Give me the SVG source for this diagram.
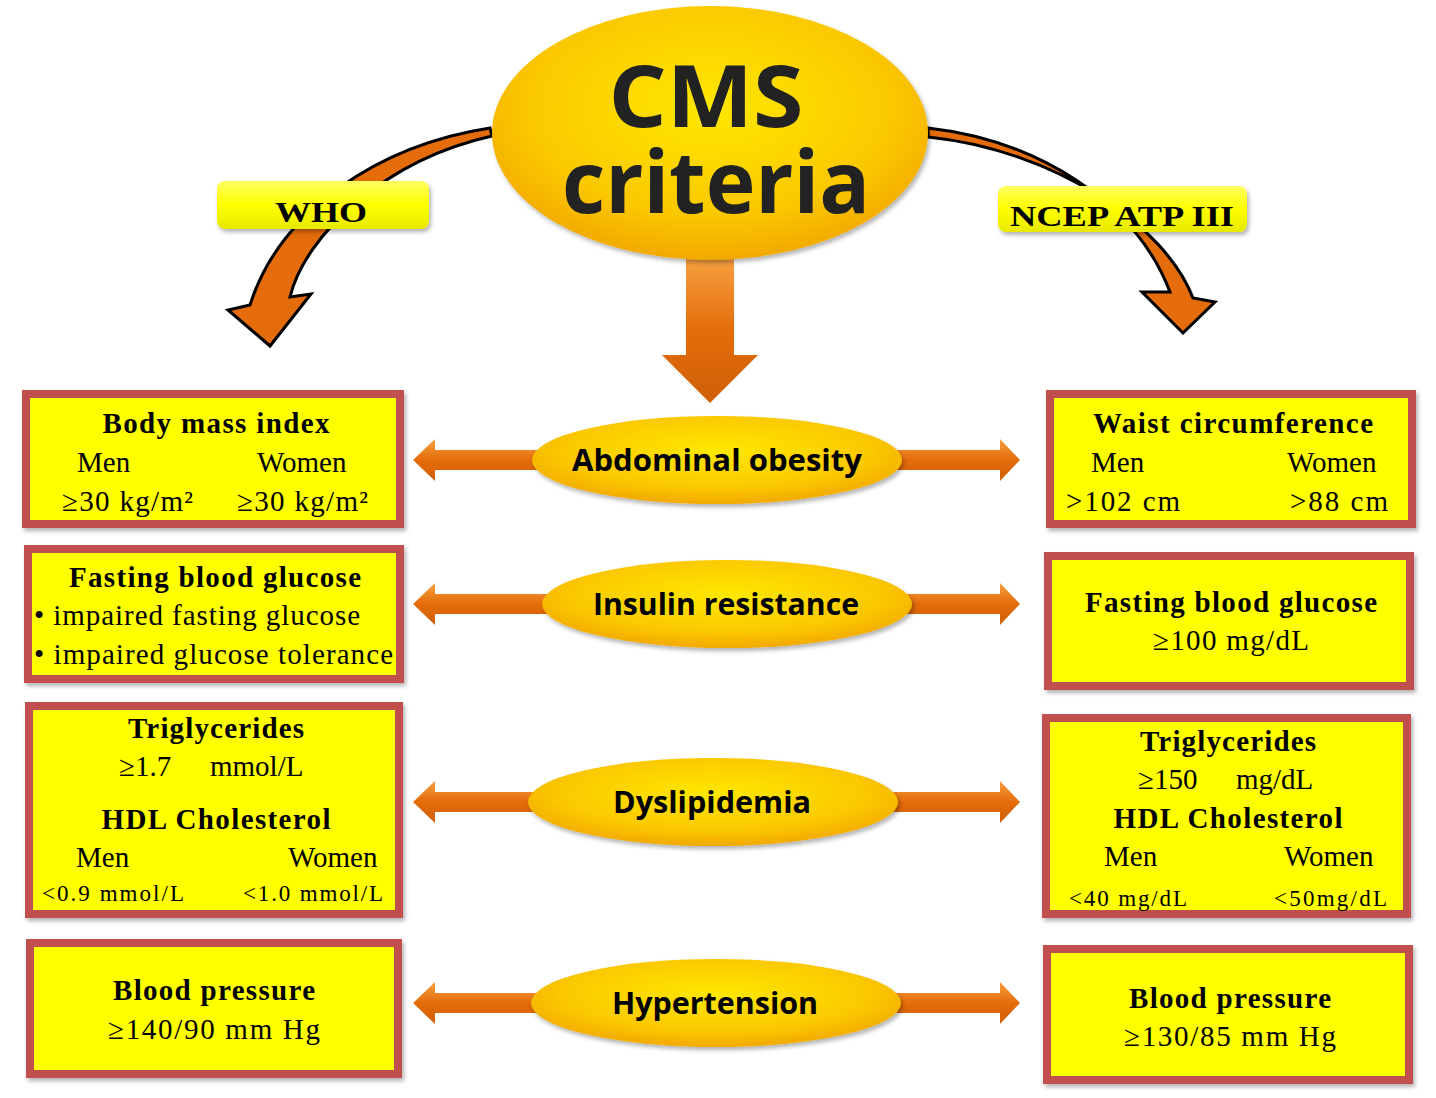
<svg xmlns="http://www.w3.org/2000/svg" width="1436" height="1098" viewBox="0 0 1436 1098">
<defs>
<radialGradient id="eg" cx="50%" cy="40%" r="60%"><stop offset="0" stop-color="#ffe800"/><stop offset="0.7" stop-color="#fbc800"/><stop offset="1" stop-color="#f2a900"/></radialGradient>
<linearGradient id="ag" x1="0" y1="0" x2="0" y2="1"><stop offset="0" stop-color="#f7a040"/><stop offset="0.5" stop-color="#e46c0a"/><stop offset="1" stop-color="#d05f08"/></linearGradient>
<linearGradient id="lg" x1="0" y1="0" x2="0" y2="1"><stop offset="0" stop-color="#ffff60"/><stop offset="0.5" stop-color="#ffff00"/><stop offset="1" stop-color="#e8e800"/></linearGradient>
<filter id="sh" x="-10%" y="-10%" width="130%" height="130%"><feDropShadow dx="2" dy="3" stdDeviation="2" flood-opacity="0.3"/></filter>
</defs>
<style>
.bo{fill:#c0504d;filter:url(#sh)}
.bi{fill:#ffff00}
.t{font-family:"Liberation Serif",serif;font-size:29px;fill:#000}
.b{font-weight:bold}
.s{font-size:23px}
.e{fill:url(#eg);filter:url(#sh)}
.et{font-family:"Open Sans","Liberation Sans",sans-serif;font-weight:bold;font-size:31px;fill:#000;text-anchor:middle}
.m{text-anchor:middle}
.ar{fill:url(#ag)}
.ca{fill:#e46c0a;stroke:#000;stroke-width:3;stroke-linejoin:miter}
</style>
<g id="connectors">
<path class="ca" d="M490,128 C380,145 280,210 250,305 L228,310 L270,346 L311,294 L290,297 C305,235 385,160 492,136 Z"/>
<path class="ca" d="M928,128 C1035,140 1135,200 1170,292 L1142,292 L1183,333 L1215,302 L1193,298 C1165,225 1055,150 928,137 Z"/>
<path class="ar" d="M686,258 H734 V355 H758 L710,403 L662,355 H686 Z"/>
<g class="ar">
<path d="M413,460 L435,439 V450 H1000 V439 L1020,460 L1000,481 V470 H435 V481 Z"/>
<path d="M413,604 L435,583 V594 H1000 V583 L1020,604 L1000,625 V614 H435 V625 Z"/>
<path d="M413,802 L435,781 V792 H1000 V781 L1020,802 L1000,823 V812 H435 V823 Z"/>
<path d="M413,1003 L435,982 V993 H1000 V982 L1020,1003 L1000,1024 V1013 H435 V1024 Z"/>
</g>
</g>
<g id="cms"><ellipse class="e" cx="710" cy="133" rx="218" ry="127"/>
<text x="706" y="127" font-family="Open Sans,Liberation Sans,sans-serif" font-weight="bold" font-size="86" text-anchor="middle" fill="#222" textLength="195" lengthAdjust="spacingAndGlyphs">CMS</text>
<text x="716" y="213" font-family="Open Sans,Liberation Sans,sans-serif" font-weight="bold" font-size="86" text-anchor="middle" fill="#222" textLength="308" lengthAdjust="spacingAndGlyphs">criteria</text></g>
<g id="who"><rect x="217" y="181" width="212" height="48" rx="8" fill="url(#lg)" filter="url(#sh)"/><text class="t b m" x="321" y="222" font-size="36" textLength="92" lengthAdjust="spacingAndGlyphs">WHO</text></g>
<g id="ncep"><rect x="998" y="186" width="249" height="46" rx="8" fill="url(#lg)" filter="url(#sh)"/><text class="t b m" x="1122" y="226" font-size="36" textLength="224" lengthAdjust="spacingAndGlyphs">NCEP ATP III</text></g>
<g id="e1"><ellipse class="e" cx="717" cy="460" rx="185" ry="44"/><text class="et" x="717" y="471" textLength="290" lengthAdjust="spacingAndGlyphs">Abdominal obesity</text></g>
<g id="e2"><ellipse class="e" cx="727" cy="604" rx="185" ry="44"/><text class="et" x="726" y="615" textLength="266" lengthAdjust="spacingAndGlyphs">Insulin resistance</text></g>
<g id="e3"><ellipse class="e" cx="713" cy="802" rx="185" ry="44"/><text class="et" x="712" y="813" textLength="198" lengthAdjust="spacingAndGlyphs">Dyslipidemia</text></g>
<g id="e4"><ellipse class="e" cx="716" cy="1003" rx="185" ry="44"/><text class="et" x="715" y="1014" textLength="206" lengthAdjust="spacingAndGlyphs">Hypertension</text></g>
<g id="l1"><rect class="bo" x="22" y="390" width="382" height="138"/><rect class="bi" x="30" y="398" width="366" height="122"/>
<text class="t b m" x="216" y="433" textLength="227">Body mass index</text><text class="t" x="77" y="472">Men</text><text class="t" x="257" y="472">Women</text>
<text class="t" x="62" y="511" textLength="131">≥30 kg/m²</text><text class="t" x="237" y="511" textLength="131">≥30 kg/m²</text></g>
<g id="l2"><rect class="bo" x="24" y="545" width="380" height="138"/><rect class="bi" x="32" y="553" width="364" height="122"/>
<text class="t b m" x="215" y="587" textLength="292">Fasting blood glucose</text><text class="t" x="34" y="625" textLength="326">• impaired fasting glucose</text><text class="t" x="34" y="664" textLength="359">• impaired glucose tolerance</text></g>
<g id="l3"><rect class="bo" x="25" y="702" width="378" height="216"/><rect class="bi" x="33" y="710" width="362" height="200"/>
<text class="t b m" x="216" y="738" textLength="176">Triglycerides</text><text class="t" x="119" y="776">≥1.7</text><text class="t" x="210" y="776">mmol/L</text>
<text class="t b m" x="216" y="829" textLength="229">HDL Cholesterol</text><text class="t" x="76" y="867">Men</text><text class="t" x="288" y="867">Women</text>
<text class="t s" x="42" y="901" textLength="142">&lt;0.9 mmol/L</text><text class="t s" x="243" y="901" textLength="140">&lt;1.0 mmol/L</text></g>
<g id="l4"><rect class="bo" x="26" y="939" width="376" height="139"/><rect class="bi" x="34" y="947" width="360" height="123"/>
<text class="t b m" x="214" y="1000" textLength="202">Blood pressure</text><text class="t m" x="214" y="1039" textLength="212">≥140/90 mm Hg</text></g>
<g id="r1"><rect class="bo" x="1046" y="390" width="370" height="138"/><rect class="bi" x="1054" y="398" width="354" height="122"/>
<text class="t b m" x="1233" y="433" textLength="280">Waist circumference</text><text class="t" x="1091" y="472">Men</text><text class="t" x="1287" y="472">Women</text>
<text class="t" x="1066" y="511" textLength="114">&gt;102 cm</text><text class="t" x="1290" y="511" textLength="98">&gt;88 cm</text></g>
<g id="r2"><rect class="bo" x="1044" y="552" width="370" height="138"/><rect class="bi" x="1052" y="560" width="354" height="122"/>
<text class="t b m" x="1231" y="612" textLength="292">Fasting blood glucose</text><text class="t m" x="1231" y="650" textLength="156">≥100 mg/dL</text></g>
<g id="r3"><rect class="bo" x="1042" y="714" width="369" height="204"/><rect class="bi" x="1050" y="722" width="353" height="188"/>
<text class="t b m" x="1228" y="751" textLength="176">Triglycerides</text><text class="t" x="1138" y="789">≥150</text><text class="t" x="1236" y="789">mg/dL</text>
<text class="t b m" x="1228" y="828" textLength="229">HDL Cholesterol</text><text class="t" x="1104" y="866">Men</text><text class="t" x="1284" y="866">Women</text>
<text class="t s" x="1069" y="906" textLength="118">&lt;40 mg/dL</text><text class="t s" x="1274" y="906" textLength="113">&lt;50mg/dL</text></g>
<g id="r4"><rect class="bo" x="1043" y="945" width="370" height="139"/><rect class="bi" x="1051" y="953" width="354" height="123"/>
<text class="t b m" x="1230" y="1008" textLength="202">Blood pressure</text><text class="t m" x="1230" y="1046" textLength="212">≥130/85 mm Hg</text></g>
</svg>
